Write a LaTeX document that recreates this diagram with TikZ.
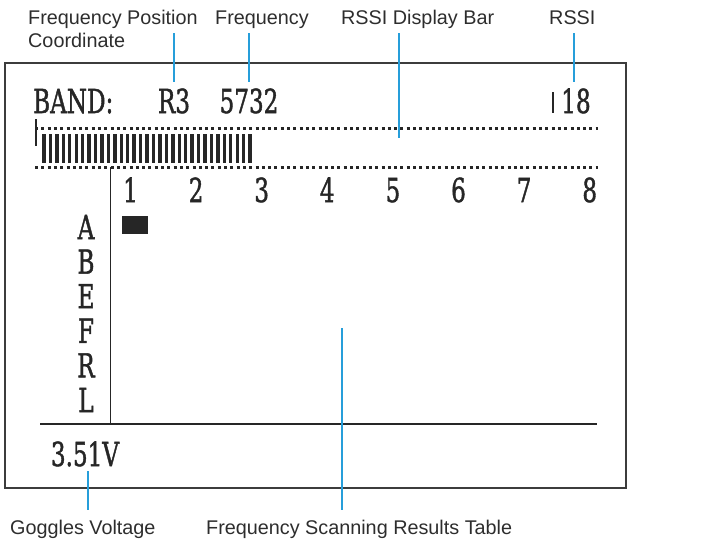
\documentclass[tikz,border=0pt]{standalone}
\usepackage{fontspec}
\usepackage{graphicx}
\setmainfont{Liberation Sans}
\newfontfamily\lcdfont[FakeBold=1.6]{DejaVu Serif}
\definecolor{callout}{RGB}{38,158,218}
\definecolor{ink}{RGB}{38,38,38}
\definecolor{labink}{RGB}{45,45,45}
\newcommand{\lcdtext}[1]{\scalebox{0.7}[1]{\lcdfont\fontsize{33}{33}\selectfont #1}}
\begin{document}
\begin{tikzpicture}[x=1pt,y=-1pt,
  lab/.style={font=\fontsize{19.8}{20}\selectfont, text=labink, inner sep=0pt, anchor=base west},
  lcd/.style={text=ink, inner sep=0pt, anchor=base},
  callline/.style={draw=callout, line width=1.4pt},
  dotline/.style={draw=ink, line width=3pt, dash pattern=on 3pt off 3.3pt},
  barline/.style={draw=ink, line width=3.4pt},
  tableline/.style={draw=ink, line width=1.8pt}]
\useasboundingbox (0,0) rectangle (718,558);
% outer frame
\draw[draw=ink!90, line width=1.2pt] (5,63) rectangle (626,488);
% header texts
\node[lcd, anchor=base west] (band) at (33,113) {\lcdtext{BAND:}};
\node[lcd] (pos) at (174,113) {\lcdtext{R3}};
\node[lcd] (freq) at (249,113) {\lcdtext{5732}};
\node[lcd] (rssi) at (576,113) {\lcdtext{18}};
\draw[draw=ink, line width=2.4pt] (553,92) -- (553,113);
% RSSI bar
\draw[dotline] (35,128) -- (598,128);
\draw[dotline] (35,167) -- (598,167);
\draw[draw=ink, line width=2pt] (36,119) -- (36,146);
\foreach \i in {0,...,32} {
  \draw[barline] ({44+6.44*\i},134) -- ({44+6.44*\i},163);
}
\coordinate (barmid) at (399,138);
% table lines
\draw[tableline] (110.5,167) -- (110.5,424);
\draw[tableline] (40,424) -- (597,424);
% column numbers
\foreach \n [count=\k from 0] in {1,...,8} {
  \node[lcd] (c\n) at ({130.5+65.6*\k},202) {\lcdtext{\n}};
}
% row letters
\foreach \l [count=\k from 0] in {A,B,E,F,R,L} {
  \node[lcd] (r\l) at (86,{239+34.6*\k}) {\lcdtext{\l}};
}
% cursor block
\fill[ink] (122,216) rectangle (148,234);
% voltage
\node[lcd] (volt) at (85,466) {\lcdtext{3.51V}};
\coordinate (tablemid) at (342,328);
% labels
\node[lab] (lpos) at (28,24) {Frequency Position};
\node[lab] (lcoord) at (28,47) {Coordinate};
\node[lab] (lfreq) at (215,24) {Frequency};
\node[lab] (lbar) at (341,24) {RSSI Display Bar};
\node[lab] (lrssi) at (549,24) {RSSI};
\node[lab] (lvolt) at (10,534) {Goggles Voltage};
\node[lab] (ltable) at (206,534) {Frequency Scanning Results Table};
% callout lines
\coordinate (p1) at (174,33); \coordinate (p1e) at (174,82);
\coordinate (p2) at (249,33); \coordinate (p2e) at (249,82);
\coordinate (p3) at (399,33);
\coordinate (p4) at (574,33); \coordinate (p4e) at (574,82);
\coordinate (p5) at (88,471); \coordinate (p5e) at (88,510);
\coordinate (p6) at (342,510);
\draw[callline] (p1) -- (p1e);
\draw[callline] (p2) -- (p2e);
\draw[callline] (p3) -- (barmid);
\draw[callline] (p4) -- (p4e);
\draw[callline] (p5) -- (p5e);
\draw[callline] (tablemid) -- (p6);
\end{tikzpicture}
\end{document}
